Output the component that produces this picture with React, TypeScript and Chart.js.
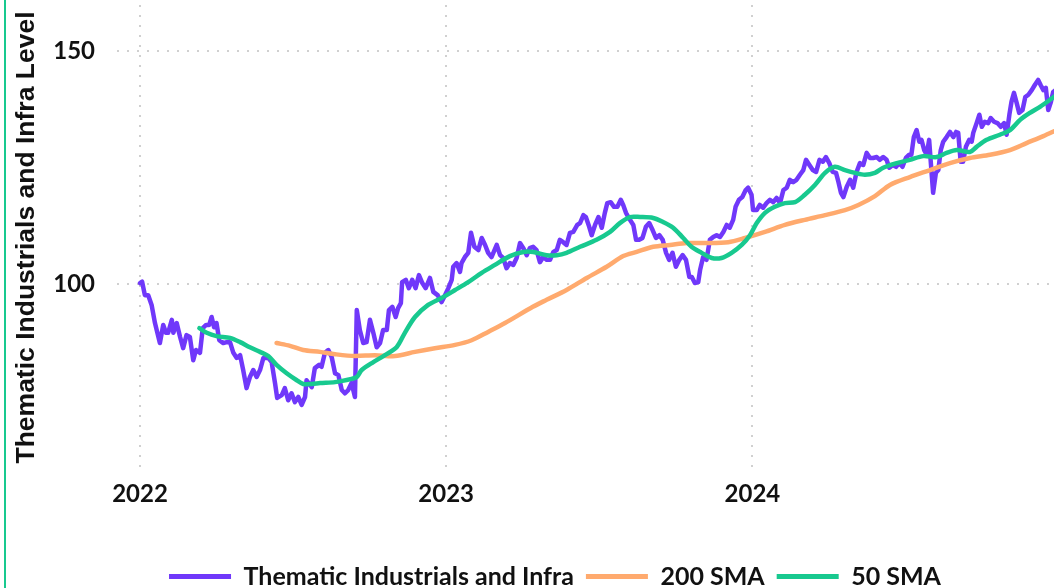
import React, { useEffect, useRef } from "react";
import { Chart, registerables } from "chart.js";

Chart.register(...registerables);

// Time axis in decimal years
const priceYears = [
  2022.0, 2022.007, 2022.016, 2022.027, 2022.038, 2022.049, 2022.065, 2022.076, 2022.085, 2022.092,
  2022.104, 2022.109, 2022.12, 2022.131, 2022.141, 2022.152, 2022.163, 2022.174, 2022.183, 2022.196,
  2022.205, 2022.216, 2022.226, 2022.234, 2022.242, 2022.25, 2022.259, 2022.272, 2022.283, 2022.294,
  2022.305, 2022.316, 2022.327, 2022.337, 2022.348, 2022.359, 2022.37, 2022.381, 2022.392, 2022.403,
  2022.419, 2022.43, 2022.441, 2022.448, 2022.463, 2022.473, 2022.484, 2022.495, 2022.506, 2022.517,
  2022.528, 2022.539, 2022.544, 2022.561, 2022.571, 2022.585, 2022.593, 2022.604, 2022.615, 2022.626,
  2022.637, 2022.648, 2022.659, 2022.669, 2022.68, 2022.691, 2022.702, 2022.708, 2022.718, 2022.729,
  2022.74, 2022.751, 2022.762, 2022.773, 2022.784, 2022.794, 2022.806, 2022.813, 2022.824, 2022.835,
  2022.843, 2022.852, 2022.856, 2022.868, 2022.878, 2022.889, 2022.9, 2022.911, 2022.922, 2022.933,
  2022.947, 2022.958, 2022.972, 2022.985, 2022.996, 2023.007, 2023.018, 2023.023, 2023.034, 2023.045,
  2023.05, 2023.061, 2023.072, 2023.081, 2023.092, 2023.105, 2023.116, 2023.127, 2023.137, 2023.148,
  2023.165, 2023.176, 2023.186, 2023.197, 2023.208, 2023.219, 2023.23, 2023.241, 2023.252, 2023.263,
  2023.273, 2023.284, 2023.295, 2023.306, 2023.317, 2023.328, 2023.339, 2023.35, 2023.361, 2023.371,
  2023.382, 2023.393, 2023.404, 2023.415, 2023.428, 2023.437, 2023.448, 2023.456, 2023.467, 2023.475,
  2023.486, 2023.497, 2023.508, 2023.518, 2023.526, 2023.537, 2023.548, 2023.559, 2023.57, 2023.578,
  2023.587, 2023.6, 2023.611, 2023.62, 2023.63, 2023.641, 2023.652, 2023.663, 2023.674, 2023.685,
  2023.696, 2023.707, 2023.718, 2023.728, 2023.739, 2023.75, 2023.761, 2023.772, 2023.783, 2023.794,
  2023.802, 2023.812, 2023.823, 2023.829, 2023.839, 2023.85, 2023.861, 2023.872, 2023.883, 2023.894,
  2023.905, 2023.916, 2023.926, 2023.937, 2023.945, 2023.956, 2023.967, 2023.978, 2023.986, 2023.997,
  2024.002, 2024.014, 2024.024, 2024.035, 2024.046, 2024.057, 2024.068, 2024.079, 2024.09, 2024.101,
  2024.112, 2024.122, 2024.133, 2024.144, 2024.155, 2024.166, 2024.175, 2024.186, 2024.197, 2024.208,
  2024.219, 2024.23, 2024.24, 2024.251, 2024.262, 2024.273, 2024.281, 2024.289, 2024.297, 2024.308,
  2024.319, 2024.329, 2024.34, 2024.351, 2024.362, 2024.373, 2024.384, 2024.394, 2024.406, 2024.416,
  2024.427, 2024.438, 2024.447, 2024.458, 2024.469, 2024.479, 2024.49, 2024.501, 2024.512, 2024.519,
  2024.527, 2024.536, 2024.545, 2024.552, 2024.561, 2024.569, 2024.577, 2024.585, 2024.59, 2024.599,
  2024.607, 2024.615, 2024.623, 2024.634, 2024.645, 2024.656, 2024.665, 2024.672, 2024.68, 2024.688,
  2024.697, 2024.708, 2024.716, 2024.721, 2024.732, 2024.741, 2024.749, 2024.759, 2024.77, 2024.778,
  2024.789, 2024.8, 2024.811, 2024.822, 2024.83, 2024.839, 2024.846, 2024.854, 2024.863, 2024.871,
  2024.882, 2024.891, 2024.901, 2024.912, 2024.922, 2024.933, 2024.941, 2024.95, 2024.958, 2024.966,
  2024.974, 2024.982, 2024.99,
];

const priceValues = [
  100.2, 100.5, 97.6, 97.6, 95.5, 91.6, 87.3, 91.2, 89.5, 89.5,
  92.3, 89.5, 91.6, 88.6, 86.2, 89.0, 88.6, 83.6, 85.8, 85.2,
  90.5, 91.2, 91.2, 92.9, 90.7, 91.6, 87.9, 87.3, 87.5, 87.5,
  85.2, 84.1, 84.7, 81.5, 77.6, 80.0, 81.5, 80.0, 81.5, 84.1,
  84.1, 83.2, 78.7, 75.5, 76.1, 77.6, 75.0, 76.5, 74.6, 75.7,
  74.0, 75.7, 79.3, 77.8, 81.9, 82.6, 82.2, 85.2, 85.8, 84.3,
  80.8, 80.4, 77.2, 76.5, 77.2, 78.7, 75.7, 94.4, 90.1, 87.3,
  87.5, 92.3, 89.5, 86.4, 87.3, 90.1, 90.1, 94.4, 95.1, 92.9,
  94.8, 95.9, 100.4, 100.9, 99.1, 100.9, 99.1, 101.9, 100.2, 99.1,
  101.3, 98.3, 97.6, 96.1, 97.6, 99.1, 100.9, 103.7, 104.5, 102.6,
  104.5, 105.8, 106.7, 111.0, 108.0, 107.3, 109.9, 108.4, 106.7, 105.8,
  108.4, 106.2, 105.6, 103.4, 104.5, 104.1, 105.6, 108.8, 107.7, 106.2,
  107.7, 108.0, 107.3, 104.7, 105.8, 105.2, 105.2, 106.9, 107.3, 109.5,
  109.0, 108.4, 111.0, 111.2, 112.7, 113.1, 114.8, 114.4, 112.3, 110.5,
  112.7, 114.4, 112.1, 115.3, 117.4, 117.6, 116.6, 116.6, 118.1, 117.0,
  115.3, 113.8, 112.7, 109.5, 109.5, 109.9, 112.3, 113.1, 111.6, 109.9,
  110.5, 109.5, 106.7, 105.2, 106.7, 103.7, 105.2, 106.2, 105.2, 101.5,
  101.5, 100.2, 100.4, 103.0, 105.8, 105.2, 109.5, 110.1, 110.5, 110.1,
  111.2, 112.7, 112.1, 113.8, 116.6, 118.1, 118.7, 120.2, 120.7, 119.2,
  115.9, 115.9, 117.0, 116.4, 117.4, 118.1, 117.6, 118.5, 117.4, 120.2,
  120.7, 122.4, 121.9, 122.4, 123.5, 124.5, 126.7, 125.6, 124.5, 124.1,
  126.7, 126.3, 127.3, 126.0, 124.1, 123.9, 121.9, 119.6, 118.7, 120.9,
  122.4, 120.7, 124.1, 126.0, 125.6, 128.2, 127.1, 127.1, 127.3, 126.7,
  127.3, 126.7, 125.0, 125.6, 125.2, 126.0, 125.2, 127.1, 127.8, 127.8,
  131.6, 133.1, 130.6, 131.0, 128.8, 127.8, 131.0, 123.9, 119.6, 123.9,
  124.5, 128.8, 130.6, 131.6, 132.7, 131.6, 132.7, 132.5, 126.3, 126.3,
  129.5, 131.0, 130.6, 132.5, 134.6, 136.4, 133.8, 134.9, 134.6, 135.7,
  134.9, 134.6, 133.8, 134.6, 132.1, 136.4, 139.2, 141.1, 138.9, 136.8,
  137.4, 140.2, 140.7, 141.7, 142.8, 143.9, 142.8, 141.7, 142.2, 137.4,
  139.0, 141.3, 141.7,
];

const sma200Years = [
  2022.446, 2022.49, 2022.533, 2022.588, 2022.637, 2022.702, 2022.767, 2022.833, 2022.898, 2022.963,
  2023.029, 2023.083, 2023.137, 2023.192, 2023.283, 2023.328, 2023.393, 2023.459, 2023.524, 2023.578,
  2023.622, 2023.676, 2023.731, 2023.785, 2023.845, 2023.921, 2023.976, 2024.041, 2024.106, 2024.171,
  2024.237, 2024.302, 2024.346, 2024.4, 2024.449, 2024.514, 2024.58, 2024.645, 2024.71, 2024.776,
  2024.841, 2024.895, 2024.95, 2024.99,
];
const sma200Values = [
  87.3, 86.7, 85.8, 85.4, 84.9, 84.5, 84.7, 84.5, 85.4, 86.2,
  86.9, 87.9, 89.7, 91.6, 95.1, 96.6, 98.7, 101.3, 103.7, 106.0,
  106.9, 108.0, 108.4, 108.8, 108.8, 109.0, 109.9, 111.2, 112.7, 113.8,
  114.8, 115.9, 117.0, 118.9, 121.3, 123.0, 124.5, 126.0, 127.1, 127.8,
  128.8, 130.3, 131.8, 133.0,
];

const sma50Years = [
  2022.194, 2022.218, 2022.25, 2022.294, 2022.327, 2022.359, 2022.392, 2022.419, 2022.446, 2022.479,
  2022.512, 2022.533, 2022.561, 2022.588, 2022.637, 2022.691, 2022.708, 2022.724, 2022.762, 2022.8,
  2022.838, 2022.865, 2022.898, 2022.941, 2022.985, 2023.029, 2023.072, 2023.116, 2023.159, 2023.208,
  2023.252, 2023.284, 2023.328, 2023.361, 2023.393, 2023.437, 2023.491, 2023.535, 2023.567, 2023.6,
  2023.633, 2023.676, 2023.709, 2023.741, 2023.774, 2023.801, 2023.834, 2023.867, 2023.899, 2023.932,
  2023.965, 2023.992, 2024.014, 2024.041, 2024.073, 2024.106, 2024.139, 2024.171, 2024.204, 2024.237,
  2024.269, 2024.302, 2024.335, 2024.367, 2024.4, 2024.427, 2024.471, 2024.514, 2024.558, 2024.601,
  2024.634, 2024.667, 2024.71, 2024.732, 2024.765, 2024.808, 2024.841, 2024.874, 2024.906, 2024.939,
  2024.99,
];
const sma50Values = [
  90.5, 89.5, 88.8, 88.4, 87.5, 86.4, 85.4, 84.5, 82.6, 80.8,
  79.3, 78.5, 78.5, 78.7, 78.9, 79.6, 80.0, 81.5, 83.2, 84.7,
  86.4, 89.5, 92.9, 95.5, 97.0, 98.7, 100.4, 102.4, 104.1, 106.0,
  106.9, 106.9, 106.2, 106.2, 106.7, 108.0, 109.5, 111.2, 113.1, 114.4,
  114.4, 114.2, 113.3, 112.1, 109.9, 108.0, 106.7, 105.6, 105.6, 106.7,
  108.4, 110.5, 113.1, 115.3, 116.6, 117.4, 117.6, 119.2, 121.3, 123.9,
  125.2, 124.5, 123.9, 123.5, 123.9, 125.0, 126.0, 126.7, 127.5, 127.3,
  128.2, 128.8, 128.4, 129.5, 131.0, 132.1, 133.1, 135.3, 136.8, 138.1,
  140.5,
];

const seriesLabels = ["Thematic Industrials and Infra", "200 SMA", "50 SMA"];
const yearTicks = [2022, 2023, 2024];
const valueTicks = [100, 150];

const PURPLE = "#7038FA";
const ORANGE = "#FFAA6E";
const GREEN = "#18C98F";

const X_MIN = 2021.925;
const X_MAX = 2025.148;
const Y_MIN = 60;
const Y_MAX = 160;

const CANVAS_W = 1098;
const CANVAS_H = 599;

const toPoints = (xs: number[], ys: number[]) => xs.map((x, i) => ({ x, y: ys[i] }));

export default function App() {
  const ref = useRef<HTMLCanvasElement>(null);

  useEffect(() => {
    if (!ref.current) return;
    const tickFont = { family: "Lato", weight: "bold" as const, size: 24 };
    const chart = new Chart(ref.current, {
      type: "line",
      data: {
        datasets: [
          {
            label: seriesLabels[0],
            data: toPoints(priceYears, priceValues),
            borderColor: PURPLE,
            backgroundColor: PURPLE,
            borderWidth: 4.5,
            pointRadius: 0,
            tension: 0,
            borderJoinStyle: "round",
            borderCapStyle: "round",
            order: 2,
          },
          {
            label: seriesLabels[1],
            data: toPoints(sma200Years, sma200Values),
            borderColor: ORANGE,
            backgroundColor: ORANGE,
            borderWidth: 4.5,
            pointRadius: 0,
            tension: 0.3,
            borderCapStyle: "round",
            order: 1,
          },
          {
            label: seriesLabels[2],
            data: toPoints(sma50Years, sma50Values),
            borderColor: GREEN,
            backgroundColor: GREEN,
            borderWidth: 4.5,
            pointRadius: 0,
            tension: 0.3,
            borderCapStyle: "round",
            order: 0,
          },
        ],
      },
      options: {
        responsive: false,
        animation: false,
        layout: { padding: { top: 5, left: 0, right: 0, bottom: 0 } },
        plugins: {
          tooltip: { enabled: false },
          legend: {
            position: "bottom",
            align: "center",
            labels: {
              boxWidth: 62,
              boxHeight: 5,
              padding: 12,
              color: "#111",
              font: { family: "Lato", weight: "bold", size: 25 },
              sort: (a: any, b: any) => a.datasetIndex - b.datasetIndex,
              generateLabels: (c: any) =>
                Chart.defaults.plugins.legend.labels
                  .generateLabels(c)
                  .map((l: any) => ({ ...l, fillStyle: l.strokeStyle, lineWidth: 0 })),
            },
          },
        },
        scales: {
          x: {
            type: "linear",
            min: X_MIN,
            max: X_MAX,
            afterBuildTicks: (s: any) => {
              s.ticks = yearTicks.map((v) => ({ value: v }));
            },
            afterFit: (s: any) => {
              s.height = 82;
              s.paddingLeft = 0;
              s.paddingRight = 0;
            },
            ticks: {
              callback: (v: any) => String(v),
              autoSkip: false,
              maxRotation: 0,
              padding: 10,
              color: "#111",
              font: tickFont,
            },
            grid: { color: "#d0d0d0", lineWidth: 2, drawTicks: false, tickLength: 0 },
            border: { display: false, dash: [2, 8] },
          },
          y: {
            type: "linear",
            min: Y_MIN,
            max: Y_MAX,
            afterBuildTicks: (s: any) => {
              s.ticks = valueTicks.map((v) => ({ value: v }));
            },
            afterFit: (s: any) => {
              s.width = 111;
              s.paddingTop = 0;
              s.paddingBottom = 0;
            },
            ticks: {
              callback: (v: any) => String(v),
              padding: 22,
              color: "#111",
              font: tickFont,
            },
            grid: { color: "#d0d0d0", lineWidth: 2, drawTicks: false, tickLength: 0 },
            border: { display: false, dash: [2, 8] },
            title: {
              display: true,
              text: "Thematic Industrials and Infra Level",
              color: "#111",
              font: { family: "Liberation Sans", weight: "bold", size: 26.5 },
              padding: { top: 5, bottom: 0 },
            },
          },
        },
      },
    } as any);
    return () => chart.destroy();
  }, []);

  return (
    <div
      style={{
        position: "absolute",
        left: 0,
        top: 0,
        width: 1054,
        height: 588,
        overflow: "hidden",
        background: "#fff",
      }}
    >
      <div
        style={{ position: "absolute", left: 4, top: 0, width: 2, height: 588, background: GREEN }}
      />
      <canvas
        ref={ref}
        width={CANVAS_W}
        height={CANVAS_H}
        style={{ position: "absolute", left: 6, top: 0 }}
      />
    </div>
  );
}
